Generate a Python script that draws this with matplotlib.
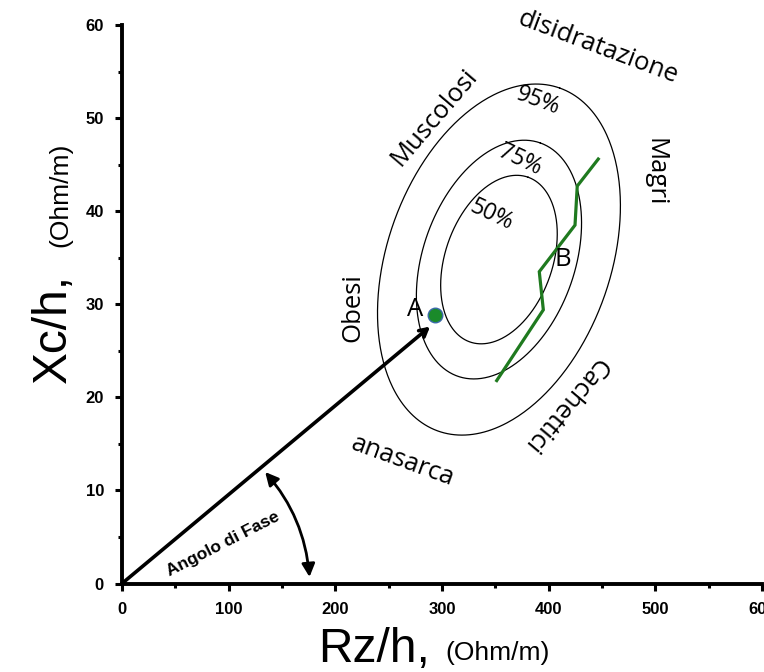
import matplotlib
matplotlib.use("Agg")
import matplotlib.pyplot as plt
import numpy as np
from matplotlib.patches import FancyArrowPatch

# --- dati ---
# ellissi di tolleranza (centro, semiassi in unita' Rz/h, inclinazione)
ell_center_rz = 353.4
ell_center_xc = 34.8
ell_major = 170.6
ell_minor = 104.6
ell_tilt = 70.5
ell_levels = ["50%", "75%", "95%"]
ell_scale = [0.48, 0.68, 1.0]

# vettore del soggetto (punto A)
punto_a_rz = 293.4
punto_a_xc = 28.8

# traiettoria verde
traj_rz = [351.3, 395.0, 391.2, 424.7, 426.8, 446.5]
traj_xc = [21.8, 29.4, 33.5, 38.5, 42.7, 45.6]

x_ticks = [0, 100, 200, 300, 400, 500, 600]
y_ticks = [0, 10, 20, 30, 40, 50, 60]

W, H = 764, 672
fig = plt.figure(figsize=(W / 100, H / 100), dpi=100)
ax = fig.add_axes([122 / W, 88.5 / H, 640 / W, 558.5 / H])
ax.set_xlim(0, 600)
ax.set_ylim(0, 60)

# rapporto pixel: 1 unita' Xc vale k unita' Rz sullo schermo
k = (558.5 / 60) / (640 / 600)

t = np.linspace(0, 2 * np.pi, 400)
phi = np.radians(ell_tilt)
for s in ell_scale:
    a = ell_major * s
    b = ell_minor * s
    ex = ell_center_rz + a * np.cos(t) * np.cos(phi) - b * np.sin(t) * np.sin(phi)
    ey = ell_center_xc + (a * np.cos(t) * np.sin(phi) + b * np.sin(t) * np.cos(phi)) / k
    ax.plot(ex, ey, color="black", lw=0.9)

ax.plot(traj_rz, traj_xc, color="#1f7a1f", lw=2.3, solid_joinstyle="miter")

# vettore dall'origine ad A
ax.annotate("", xy=(punto_a_rz - 4.6, punto_a_xc - 1.2), xytext=(0, 0),
            arrowprops=dict(arrowstyle="->,head_length=0.55,head_width=0.3",
                            color="black", lw=2.6, shrinkA=0, shrinkB=0))
ax.scatter([punto_a_rz], [punto_a_xc], s=110, color="#1a8a2a",
           edgecolor="#3a6aa8", linewidth=1, zorder=5)

# angolo di fase
arc = FancyArrowPatch((132.5, 12.2), (176, 0.4), connectionstyle="arc3,rad=-0.17",
                      arrowstyle="<|-|>,head_length=0.6,head_width=0.3",
                      color="black", lw=2, mutation_scale=13)
ax.add_patch(arc)
ax.text(94.7, 4.2, "Angolo di Fase", fontsize=12.5, fontweight="bold",
        family="Liberation Sans", rotation=27, ha="center", va="center")

lab = dict(family="Open Sans", color="black", ha="center", va="center")
ax.text(446.5, 57.6, "disidratazione", fontsize=18.5, rotation=-20.5, **lab)
ax.text(292.5, 50.1, "Muscolosi", fontsize=18.5, rotation=49.5, **lab)
ax.text(499.7, 44.2, "Magri", fontsize=18.5, rotation=-90, **lab)
ax.text(216.9, 29.6, "Obesi", fontsize=18.5, rotation=90, **lab)
ax.text(415.3, 19.2, "Cachettici", fontsize=18.5, rotation=230, **lab)
ax.text(263.4, 13.1, "anasarca", fontsize=18.5, rotation=-20, **lab)

ax.text(390, 51.8, "95%", fontsize=16.5, rotation=-20, **lab)
ax.text(373, 45.5, "75%", fontsize=16.5, rotation=-25, **lab)
ax.text(346.6, 39.6, "50%", fontsize=16.5, rotation=-25, **lab)
ax.text(274.7, 29.4, "A", fontsize=18.5, **lab)
ax.text(413.5, 34.8, "B", fontsize=18.5, **lab)

# assi
for side in ["top", "right"]:
    ax.spines[side].set_visible(False)
for side in ["left", "bottom"]:
    ax.spines[side].set_linewidth(2.8)
ax.set_xticks(x_ticks)
ax.set_yticks(y_ticks)
ax.set_xticks(np.arange(50, 600, 100), minor=True)
ax.set_yticks(np.arange(5, 60, 10), minor=True)
ax.tick_params(which="major", length=5, width=2.2, pad=8)
ax.tick_params(which="minor", length=3, width=2.2)
for lbl in ax.get_xticklabels() + ax.get_yticklabels():
    lbl.set_fontfamily("Liberation Sans")
    lbl.set_fontweight("bold")
    lbl.set_fontsize(12)

# etichette degli assi
fig.text(318 / W, 1 - 662 / H, "Rz/h,", fontsize=34.5, family="Liberation Sans",
         ha="left", va="baseline")
fig.text(445 / W, 1 - 660 / H, "(Ohm/m)", fontsize=19, family="Liberation Sans",
         ha="left", va="baseline")
fig.text(66 / W, 1 - 383 / H, "Xc/h,", fontsize=34.5, family="Liberation Sans",
         ha="left", va="baseline", rotation=90, rotation_mode="anchor")
fig.text(67 / W, 1 - 247 / H, "(Ohm/m)", fontsize=19, family="Liberation Sans",
         ha="left", va="baseline", rotation=90, rotation_mode="anchor")

fig.savefig("out.png", dpi=100)
